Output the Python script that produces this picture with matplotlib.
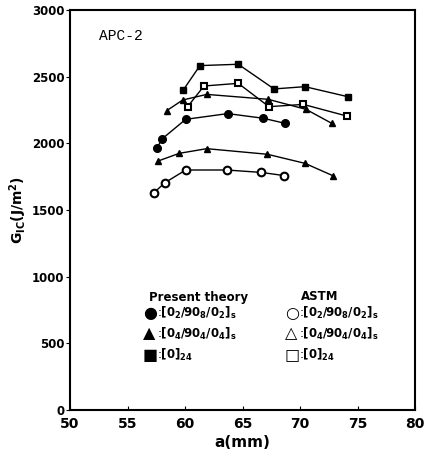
import matplotlib
matplotlib.use("Agg")
import matplotlib.pyplot as plt

plt.rcParams['mathtext.fontset'] = 'dejavusans'
plt.rcParams['font.family'] = ['DejaVu Sans']

# data (a in mm, GIc in J/m^2)
a_fc = [57.54, 58.03, 60.06, 63.71, 66.81, 68.70]
g_fc = [1963, 2035, 2180, 2223, 2188, 2150]
a_oc = [57.30, 58.26, 60.06, 63.63, 66.61, 68.63]
g_oc = [1630, 1705, 1800, 1800, 1782, 1758]
a_ft = [58.41, 59.80, 61.89, 67.24, 70.52, 72.76]
g_ft = [2245, 2325, 2367, 2330, 2255, 2150]
a_ot = [57.68, 59.50, 61.89, 67.16, 70.43, 72.84]
g_ot = [1868, 1925, 1960, 1918, 1850, 1758]
a_fs = [59.85, 61.30, 64.63, 67.74, 70.43, 74.15]
g_fs = [2400, 2583, 2593, 2408, 2425, 2350]
a_os = [60.23, 61.65, 64.63, 67.30, 70.29, 74.06]
g_os = [2275, 2430, 2450, 2275, 2292, 2205]

xticks = [50, 55, 60, 65, 70, 75, 80]
yticks = [0, 500, 1000, 1500, 2000, 2500, 3000]

fig = plt.figure(figsize=(4.24, 4.5), dpi=100)
ax = fig.add_axes([70/424, 1-410/450, 345/424, 400/450])

lw = 1.0
ax.plot(a_fc, g_fc, '-o', color='black', mfc='black', ms=5.5, lw=lw)
ax.plot(a_oc, g_oc, '-o', color='black', mfc='white', mew=1.5, ms=5.5, lw=lw)
ax.plot(a_ft, g_ft, '-^', color='black', mfc='black', ms=5, lw=lw)
ax.plot(a_ot, g_ot, '-^', color='black', mfc='black', ms=5, lw=lw)
ax.plot(a_fs, g_fs, '-s', color='black', mfc='black', ms=5, lw=lw)
ax.plot(a_os, g_os, '-s', color='black', mfc='white', mew=1.5, ms=5, lw=lw)

ax.set_xlim(50, 80)
ax.set_ylim(0, 3000)
ax.set_xticks(xticks)
ax.set_yticks(yticks)
ax.tick_params(axis='x', direction='in', length=3, labelsize=10, pad=5)
ax.tick_params(axis='y', direction='out', length=3, labelsize=8.5, pad=1)
for lab in ax.get_xticklabels() + ax.get_yticklabels():
    lab.set_fontweight('bold')
for s in ax.spines.values():
    s.set_linewidth(1.5)

ax.set_xlabel('a(mm)', fontsize=11, fontweight='bold', labelpad=3)
ax.set_ylabel(r'$\mathbf{G_{IC}}$(J/m$^{\mathbf{2}}$)', fontsize=10, fontweight='bold')
ax.yaxis.set_label_coords(-0.118, 0.5)

ax.text(0.085, 0.935, 'APC-2', transform=ax.transAxes, fontsize=10.5,
        family='Liberation Mono', ha='left', va='center')

def px(x, y):
    return fig.transFigure.inverted().transform((x, 450 - y))

fs = 8.5
fig.text(*px(149, 297), 'Present theory', fontsize=fs, fontweight='bold', ha='left', va='center')
fig.text(*px(320, 297), 'ASTM', fontsize=fs, fontweight='bold', ha='center', va='center')

left = [('●', r'$\mathbf{[0_2/90_8/0_2]_s}$'),
        ('▲', r'$\mathbf{[0_4/90_4/0_4]_s}$'),
        ('■', r'$\mathbf{[0]_{24}}$')]
right = [('○', r'$\mathbf{[0_2/90_8/0_2]_s}$'),
         ('△', r'$\mathbf{[0_4/90_4/0_4]_s}$'),
         ('□', r'$\mathbf{[0]_{24}}$')]
ys = [313, 334, 355]
for (m, lab), y in zip(left, ys):
    fig.text(*px(143, y), m, fontsize=11.5, ha='left', va='center')
    fig.text(*px(157, y), ':' + lab, fontsize=fs, ha='left', va='center')
for (m, lab), y in zip(right, ys):
    fig.text(*px(285, y), m, fontsize=11.5, ha='left', va='center')
    fig.text(*px(299, y), ':' + lab, fontsize=fs, ha='left', va='center')

fig.savefig('out.png', dpi=100)
